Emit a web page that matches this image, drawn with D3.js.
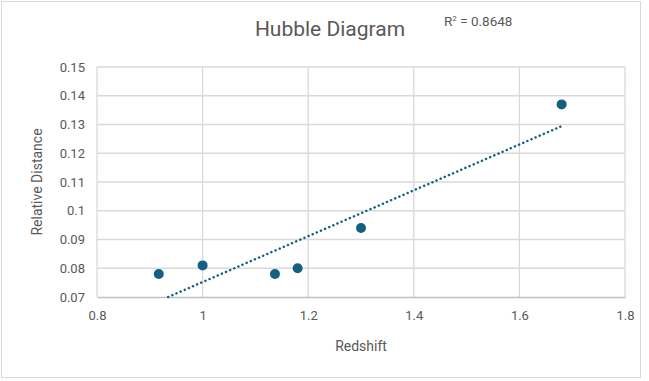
<!DOCTYPE html>
<html><head><meta charset="utf-8">
<script src="https://cdn.jsdelivr.net/npm/d3@7"></script>
<style>body{margin:0;background:#fff}svg{display:block}</style>
</head><body>
<script>
const redshift = [0.917, 1.0, 1.137, 1.18, 1.30, 1.68];
const relDistance = [0.078, 0.081, 0.078, 0.080, 0.094, 0.137];
const xTicks = [0.8, 1.0, 1.2, 1.4, 1.6, 1.8];
const yTicks = [0.07, 0.08, 0.09, 0.10, 0.11, 0.12, 0.13, 0.14, 0.15];
const titleText = "Hubble Diagram";
const xTitle = "Redshift";
const yTitle = "Relative Distance";
const r2Value = "0.8648";

const W = 649, H = 381;
const font = "'Roboto', 'Liberation Sans', sans-serif";
const grey = "#595959";
const svg = d3.select("body").append("svg").attr("width", W).attr("height", H);

svg.append("rect").attr("x", 1.5).attr("y", 1.5).attr("width", 639).attr("height", 376)
  .attr("fill", "#fff").attr("stroke", "#d9d9d9").attr("stroke-width", 1);

const m = {l: 97, r: 625, t: 67, b: 297};
const x = d3.scaleLinear().domain([0.8, 1.8]).range([m.l, m.r]);
const y = d3.scaleLinear().domain([0.07, 0.15]).range([m.b, m.t]);

// gridlines
svg.append("g").selectAll("line").data(yTicks.slice(1)).join("line")
  .attr("x1", m.l).attr("x2", m.r).attr("y1", d => y(d)).attr("y2", d => y(d))
  .attr("stroke", "#d9d9d9").attr("stroke-width", 1.3);
svg.append("g").selectAll("line").data(xTicks).join("line")
  .attr("x1", d => x(d)).attr("x2", d => x(d)).attr("y1", m.t).attr("y2", m.b)
  .attr("stroke", "#d9d9d9").attr("stroke-width", 1.3);

// axes via d3
const xAxis = svg.append("g").attr("transform", `translate(0,${m.b})`)
  .call(d3.axisBottom(x).tickValues(xTicks).tickSize(0).tickPadding(14).tickFormat(d3.format("~g")));
const yAxis = svg.append("g").attr("transform", `translate(${m.l},0)`)
  .call(d3.axisLeft(y).tickValues(yTicks).tickSize(0).tickPadding(12).tickFormat(d => d3.format("~g")(+d.toFixed(2))));
xAxis.select(".domain").attr("stroke", "#bfbfbf").attr("stroke-width", 1.5);
yAxis.select(".domain").remove();
svg.selectAll(".tick text").attr("fill", grey).attr("font-family", font).attr("font-size", 13);

// linear trendline fitted to the data
const mx = d3.mean(redshift), my = d3.mean(relDistance);
const sxy = d3.sum(redshift, (d, i) => (d - mx) * (relDistance[i] - my));
const sxx = d3.sum(redshift, d => (d - mx) ** 2);
const slope = sxy / sxx, icpt = my - slope * mx;
let x0 = d3.min(redshift), x1 = d3.max(redshift);
if (slope * x0 + icpt < 0.07) x0 = (0.07 - icpt) / slope;
svg.append("line")
  .attr("x1", x(x0)).attr("y1", y(slope * x0 + icpt))
  .attr("x2", x(x1)).attr("y2", y(slope * x1 + icpt))
  .attr("stroke", "#156082").attr("stroke-width", 2.5)
  .attr("stroke-dasharray", "0.1,4.4").attr("stroke-linecap", "round");

// points
svg.append("g").selectAll("circle").data(redshift.map((d, i) => [d, relDistance[i]])).join("circle")
  .attr("cx", d => x(d[0])).attr("cy", d => y(d[1])).attr("r", 5)
  .attr("fill", "#156082");

// title
svg.append("text").attr("x", 330).attr("y", 36).attr("text-anchor", "middle")
  .attr("font-family", font).attr("font-size", 21).attr("fill", grey).text(titleText);

// R² label
const rt = svg.append("text").attr("x", 444).attr("y", 26)
  .attr("font-family", font).attr("font-size", 13.5).attr("fill", grey);
rt.append("tspan").text("R");
rt.append("tspan").attr("font-size", 8).attr("dy", -5).text("2");
rt.append("tspan").attr("dy", 5).text(" = " + r2Value);

// axis titles
svg.append("text").attr("x", 361).attr("y", 351).attr("text-anchor", "middle")
  .attr("font-family", font).attr("font-size", 14).attr("fill", grey).text(xTitle);
svg.append("text").attr("transform", `translate(42,${(m.t + m.b) / 2}) rotate(-90)`)
  .attr("text-anchor", "middle")
  .attr("font-family", font).attr("font-size", 14).attr("fill", grey).text(yTitle);
</script>
</body></html>
